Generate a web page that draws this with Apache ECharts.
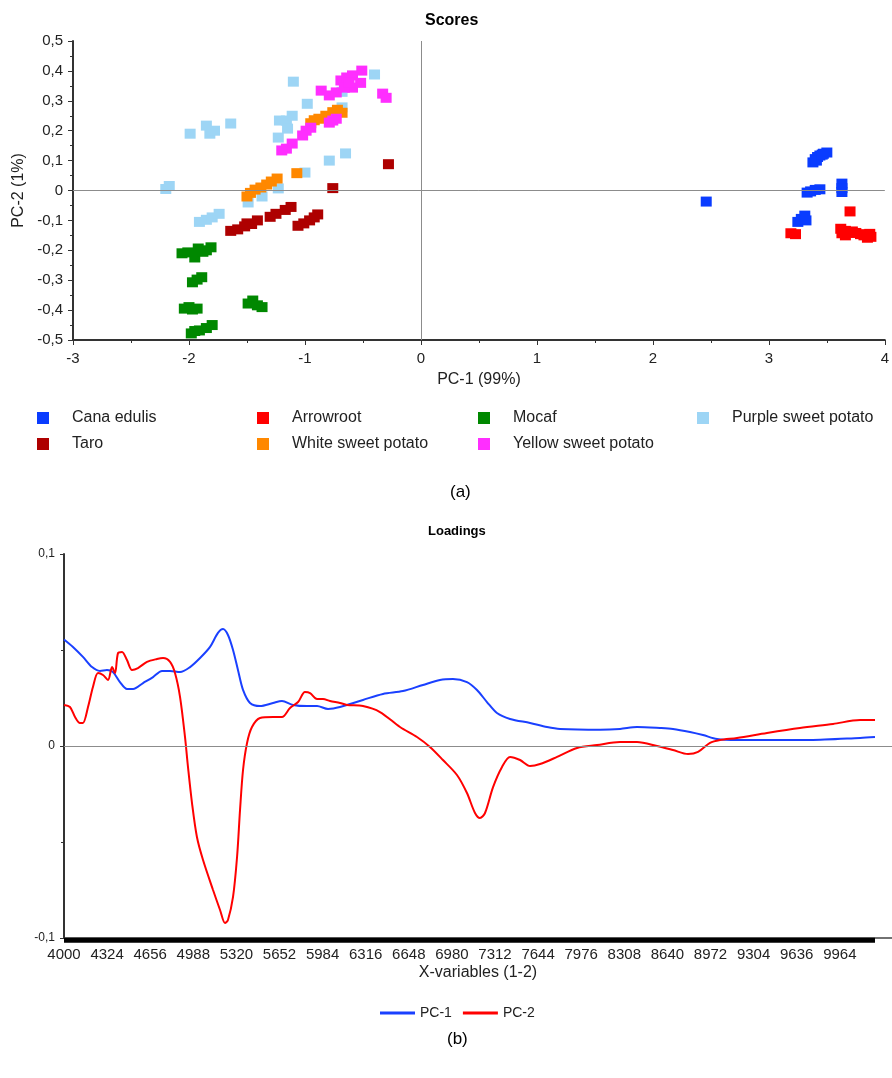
<!DOCTYPE html>
<html>
<head>
<meta charset="utf-8">
<script src="https://cdn.jsdelivr.net/npm/echarts@6/dist/echarts.min.js"></script>
<style>
html,body{margin:0;padding:0;background:#fff;}
#c{width:892px;height:1078px;}
</style>
</head>
<body>
<div id="c"></div>
<script>
// ---------- Scores (PCA) ----------
const scoreNames = ['Cana edulis','Arrowroot','Mocaf','Purple sweet potato','Taro','White sweet potato','Yellow sweet potato'];
const scoreColors = ['#0a3cff','#ff0000','#008800','#9dd5f5','#ae0000','#ff8800','#ff2eff'];

const canaEdulis = [[2.46,-0.037],[3.38,0.094],[3.40,0.105],[3.42,0.112],[3.44,0.117],[3.47,0.123],[3.50,0.127],[3.41,0.10],[3.46,0.12],
  [3.33,-0.007],[3.36,-0.003],[3.40,0.002],[3.44,0.004],[3.63,0.023],[3.63,0.008],[3.63,-0.005],[3.25,-0.105],[3.28,-0.095],[3.31,-0.084],[3.32,-0.1]];
const arrowroot = [[3.19,-0.143],[3.23,-0.146],[3.70,-0.07],[3.62,-0.128],[3.63,-0.143],[3.66,-0.135],[3.69,-0.14],[3.72,-0.137],[3.75,-0.142],
  [3.79,-0.146],[3.82,-0.15],[3.85,-0.158],[3.87,-0.145],[3.88,-0.155],[3.66,-0.15]];
const mocaf = [[-2.06,-0.21],[-2.01,-0.207],[-1.95,-0.224],[-1.92,-0.194],[-1.88,-0.205],[-1.85,-0.2],[-1.81,-0.19],[-1.97,-0.307],[-1.93,-0.298],
  [-1.89,-0.29],[-2.04,-0.395],[-2.0,-0.39],[-1.97,-0.398],[-1.93,-0.395],[-1.98,-0.478],[-1.95,-0.47],[-1.91,-0.468],[-1.85,-0.46],[-1.8,-0.45],
  [-1.49,-0.378],[-1.45,-0.368],[-1.41,-0.384],[-1.37,-0.39]];
const purpleSweetPotato = [[-2.2,0.005],[-2.17,0.015],[-1.99,0.19],[-1.85,0.217],[-1.82,0.19],[-1.78,0.2],[-1.64,0.224],[-1.1,0.364],[-0.98,0.29],
  [-1.22,0.234],[-1.16,0.234],[-1.11,0.25],[-1.15,0.207],[-1.23,0.177],[-0.4,0.388],[-0.68,0.278],[-0.68,0.33],[-0.79,0.1],[-0.65,0.124],[-1.0,0.06],
  [-1.23,0.007],[-1.37,-0.02],[-1.49,-0.04],[-1.91,-0.105],[-1.85,-0.098],[-1.8,-0.09],[-1.74,-0.078]];
const taro = [[-1.64,-0.135],[-1.58,-0.13],[-1.52,-0.12],[-1.5,-0.11],[-1.46,-0.112],[-1.41,-0.1],[-1.3,-0.088],[-1.25,-0.078],[-1.17,-0.065],
  [-1.12,-0.055],[-1.06,-0.118],[-1.01,-0.11],[-0.96,-0.1],[-0.92,-0.09],[-0.89,-0.08],[-0.76,0.008],[-0.28,0.088]];
const whiteSweetPotato = [[-1.5,-0.02],[-1.47,-0.008],[-1.43,0.003],[-1.38,0.01],[-1.33,0.02],[-1.29,0.03],[-1.24,0.04],[-1.07,0.058],
  [-0.95,0.225],[-0.92,0.235],[-0.88,0.24],[-0.82,0.25],[-0.76,0.262],[-0.72,0.27],[-0.68,0.26]];
const yellowSweetPotato = [[-0.86,0.334],[-0.79,0.318],[-0.73,0.328],[-0.69,0.368],[-0.64,0.378],[-0.59,0.385],[-0.51,0.401],[-0.52,0.36],
  [-0.59,0.344],[-0.66,0.344],[-0.62,0.36],[-0.33,0.324],[-0.3,0.31],[-0.73,0.24],[-0.76,0.234],[-0.79,0.227],[-0.95,0.21],[-0.99,0.2],
  [-1.02,0.184],[-1.11,0.157],[-1.16,0.14],[-1.2,0.134]];
const scoreData = [canaEdulis, arrowroot, mocaf, purpleSweetPotato, taro, whiteSweetPotato, yellowSweetPotato];

// ---------- Loadings ----------
const xTickLabels = ['4000','4324','4656','4988','5320','5652','5984','6316','6648','6980','7312','7644','7976','8308','8640','8972','9304','9636','9964'];
const xTickStep = 332;
const xStart = 4000;
const xEnd = 10378;

const pc1Wn = [4000,4069,4146,4216,4277,4331,4377,4431,4485,4532,4609,4686,4755,4817,4894,4971,5048,5125,5186,5225,5263,5302,5340,5379,5433,
  5510,5610,5679,5764,5872,5949,6034,6126,6303,6457,6611,6765,6896,6996,7104,7181,7258,7335,7436,7590,7721,7821,8129,8283,8414,8591,8691,
  8822,8922,9030,9184,9746,10132,10247];
const pc1Val = [0.0555,0.0516,0.0464,0.0411,0.0391,0.0396,0.0385,0.0333,0.0297,0.0297,0.0328,0.0359,0.0391,0.0391,0.0385,0.0411,0.0458,
  0.0516,0.0589,0.0609,0.0578,0.05,0.0396,0.0292,0.0224,0.0208,0.0224,0.0234,0.0214,0.0208,0.0208,0.0193,0.0203,0.024,0.0271,0.0286,
  0.0318,0.0344,0.0349,0.0333,0.0292,0.0229,0.0172,0.0141,0.012,0.0099,0.0089,0.0085,0.0089,0.0099,0.0094,0.0089,0.0073,0.0057,0.0036,
  0.0031,0.0031,0.0042,0.0047];
const pc2Wn = [4000,4046,4085,4123,4146,4185,4223,4262,4300,4339,4370,4393,4416,4447,4485,4524,4570,4639,4716,4763,4817,4855,4894,4932,
  4955,4986,5024,5071,5148,5202,5240,5263,5302,5333,5356,5379,5410,5448,5510,5610,5679,5741,5803,5856,5895,5949,5995,6049,6126,6180,6303,
  6434,6588,6719,6819,6919,7027,7104,7166,7204,7243,7305,7374,7436,7513,7590,7667,7798,7952,8106,8283,8414,8568,8691,8807,8884,8976,
  9053,9184,9415,9669,9924,10132,10247];
const pc2Val = [0.0214,0.0203,0.0151,0.012,0.012,0.0203,0.0307,0.038,0.037,0.0344,0.0411,0.038,0.0484,0.049,0.0448,0.0396,0.0406,0.0438,
  0.0453,0.0458,0.0438,0.038,0.0255,0.0047,-0.0109,-0.0297,-0.0474,-0.0594,-0.075,-0.0854,-0.0922,-0.0906,-0.0786,-0.0578,-0.0333,
  -0.0125,0.0016,0.0099,0.0146,0.0151,0.0151,0.0198,0.0229,0.0281,0.0276,0.0245,0.0245,0.0234,0.0224,0.0214,0.0208,0.0177,0.0099,
  0.0047,-0.0005,-0.0073,-0.0151,-0.0245,-0.0349,-0.0375,-0.0349,-0.0214,-0.0109,-0.0057,-0.0073,-0.0104,-0.0094,-0.0057,-0.001,0.0005,
  0.0021,0.0021,0.0,-0.0021,-0.0042,-0.0031,0.0016,0.0031,0.0042,0.0068,0.0094,0.0115,0.0135,0.0135];

const FONT = 'Liberation Sans, Arial, sans-serif';
const comma = v => String(+(+v).toFixed(2)).replace('.', ',');

const chart = echarts.init(document.getElementById('c'), null, {renderer: 'canvas'});

const scatterSeries = scoreNames.map((n, i) => ({
  name: n, type: 'scatter', xAxisIndex: 0, yAxisIndex: 0,
  symbol: 'rect', symbolSize: [11, 10],
  itemStyle: {color: scoreColors[i], opacity: 1},
  emphasis: {disabled: true},
  data: scoreData[i],
  markLine: i === 0 ? {
    silent: true, symbol: 'none', label: {show: false},
    lineStyle: {color: '#8c8c8c', width: 1, type: 'solid'},
    data: [{xAxis: 0}, {yAxis: 0}]
  } : undefined
}));

const legendCols = [['Cana edulis','Taro'],['Arrowroot','White sweet potato'],['Mocaf','Yellow sweet potato'],['Purple sweet potato']];
const legendLefts = [37, 257, 478, 697];

const axisCommon = {
  axisLine: {onZero: false, lineStyle: {color: '#333', width: 2}},
  axisTick: {show: true, length: 5, lineStyle: {color: '#333', width: 1}},
  minorTick: {show: true, splitNumber: 2, length: 3, lineStyle: {color: '#333', width: 1}},
  splitLine: {show: false},
  minorSplitLine: {show: false}
};

const option = {
  animation: false,
  backgroundColor: '#fff',
  textStyle: {fontFamily: FONT},
  title: [
    {text: 'Scores', left: 425, top: 13, padding: 0, textStyle: {fontFamily: FONT, fontSize: 16, fontWeight: 'bold', color: '#000'}},
    {text: 'Loadings', left: 428, top: 525, padding: 0, textStyle: {fontFamily: FONT, fontSize: 13, fontWeight: 'bold', color: '#000'}},
    {text: '(a)', left: 450, top: 484, padding: 0, textStyle: {fontFamily: FONT, fontSize: 17, fontWeight: 'normal', color: '#000'}},
    {text: '(b)', left: 447, top: 1031, padding: 0, textStyle: {fontFamily: FONT, fontSize: 17, fontWeight: 'normal', color: '#000'}}
  ],
  legend: legendCols.map((d, i) => ({
    data: d, orient: 'vertical', left: legendLefts[i], top: 410, padding: 0,
    icon: 'rect', itemWidth: 12, itemHeight: 12, itemGap: 10, selectedMode: false,
    itemStyle: {opacity: 1},
    textStyle: {fontFamily: FONT, fontSize: 16, color: '#222', padding: [0, 0, 0, 18]}
  })).concat([{
    data: ['PC-1', 'PC-2'], orient: 'horizontal', left: 380, top: 1006, padding: 0,
    icon: 'rect', itemWidth: 35, itemHeight: 3, itemGap: 11, selectedMode: false,
    textStyle: {fontFamily: FONT, fontSize: 14, color: '#222'}
  }]),
  grid: [
    {left: 73, top: 41, width: 815, height: 299},
    {left: 64, top: 554, width: 828, height: 384}
  ],
  xAxis: [
    Object.assign({}, axisCommon, {
      type: 'value', gridIndex: 0, min: -3, max: 4, interval: 1,
      axisLabel: {fontFamily: FONT, fontSize: 15, color: '#222', margin: 11, formatter: comma},
      name: 'PC-1 (99%)', nameLocation: 'middle', nameGap: 32,
      nameTextStyle: {fontFamily: FONT, fontSize: 16, color: '#222'}
    }),
    {
      type: 'value', gridIndex: 1, min: 0, max: xEnd - xStart, interval: xTickStep,
      axisLine: {onZero: false, lineStyle: {color: '#444', width: 1.5}},
      axisTick: {show: false}, splitLine: {show: false},
      axisLabel: {
        fontFamily: FONT, fontSize: 15, color: '#222', margin: 9, showMaxLabel: false,
        formatter: v => {
          const i = Math.round(v / xTickStep);
          return (Math.abs(v - i * xTickStep) < 1e-6 && i < xTickLabels.length) ? xTickLabels[i] : '';
        }
      },
      name: 'X-variables (1-2)', nameLocation: 'middle', nameGap: 27,
      nameTextStyle: {fontFamily: FONT, fontSize: 16, color: '#222'}
    }
  ],
  yAxis: [
    Object.assign({}, axisCommon, {
      type: 'value', gridIndex: 0, min: -0.5, max: 0.5, interval: 0.1,
      axisLabel: {fontFamily: FONT, fontSize: 15, color: '#222', margin: 10, formatter: comma},
      name: 'PC-2 (1%)', nameLocation: 'middle', nameGap: 45,
      nameTextStyle: {fontFamily: FONT, fontSize: 16, color: '#222'}
    }),
    Object.assign({}, axisCommon, {
      type: 'value', gridIndex: 1, min: -0.1, max: 0.1, interval: 0.1,
      axisTick: {show: true, length: 4, lineStyle: {color: '#333', width: 1}},
      minorTick: {show: true, splitNumber: 2, length: 3, lineStyle: {color: '#333', width: 1}},
      axisLabel: {fontFamily: FONT, fontSize: 12, color: '#222', margin: 9, formatter: comma}
    })
  ],
  series: scatterSeries.concat([
    {
      name: 'PC-1', type: 'line', xAxisIndex: 1, yAxisIndex: 1,
      data: pc1Wn.map((w, i) => [w - xStart, pc1Val[i]]),
      smooth: 0.3, showSymbol: false, symbol: 'none',
      lineStyle: {color: '#1a40ff', width: 2}, itemStyle: {color: '#1a40ff'},
      emphasis: {disabled: true},
      markLine: {
        silent: true, symbol: 'none', label: {show: false},
        lineStyle: {color: '#8c8c8c', width: 1, type: 'solid'},
        data: [{yAxis: 0}]
      },
      z: 3
    },
    {
      name: 'PC-2', type: 'line', xAxisIndex: 1, yAxisIndex: 1,
      data: pc2Wn.map((w, i) => [w - xStart, pc2Val[i]]),
      smooth: 0.3, showSymbol: false, symbol: 'none',
      lineStyle: {color: '#ff0000', width: 2}, itemStyle: {color: '#ff0000'},
      emphasis: {disabled: true},
      z: 3
    },
    {
      name: 'variable ticks', type: 'line', xAxisIndex: 1, yAxisIndex: 1,
      data: [[pc1Wn[0] - xStart, -0.1012], [pc1Wn[pc1Wn.length - 1] - xStart, -0.1012]],
      showSymbol: false, symbol: 'none', clip: false, silent: true,
      lineStyle: {color: '#000', width: 5}, emphasis: {disabled: true}, z: 4
    }
  ])
};
chart.setOption(option);
</script>
</body>
</html>
